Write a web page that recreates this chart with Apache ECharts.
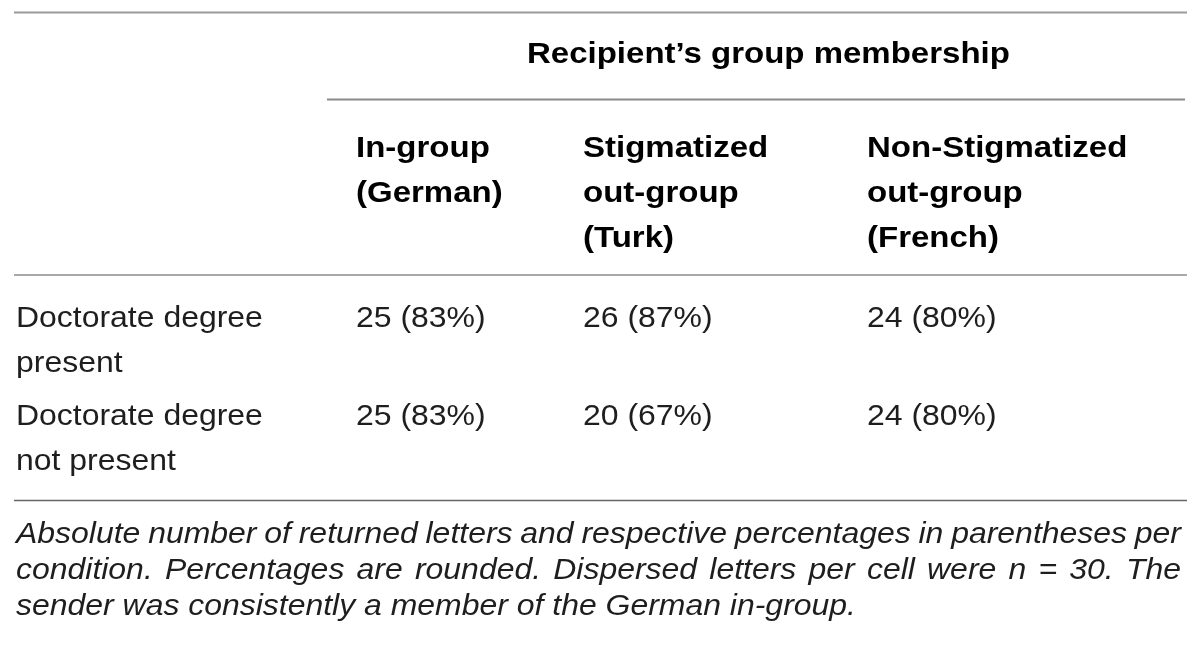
<!DOCTYPE html>
<html>
<head>
<meta charset="utf-8">
<script src="https://cdn.jsdelivr.net/npm/echarts@6/dist/echarts.min.js"></script>
<style>
html,body{margin:0;padding:0;background:#fff;}
#main{width:1200px;height:648px;}
</style>
</head>
<body>
<div id="main"></div>
<script>
// ---- data ----
const spanHeader = "Recipient’s group membership";
const columnHeaders = [
  ["In-group", "(German)"],
  ["Stigmatized", "out-group", "(Turk)"],
  ["Non-Stigmatized", "out-group", "(French)"]
];
const rowLabels = [
  ["Doctorate degree", "present"],
  ["Doctorate degree", "not present"]
];
const returnedLetters = [
  [25, 26, 24],
  [25, 20, 24]
];
const percentages = [
  [83, 87, 80],
  [83, 67, 80]
];
const captionLines = [
  "Absolute number of returned letters and respective percentages in parentheses per",
  "condition. Percentages are rounded. Dispersed letters per cell were n = 30. The",
  "sender was consistently a member of the German in-group."
];

// ---- layout ----
const FONT = '"Liberation Sans", Arial, Helvetica, sans-serif';
const FS = 30;
const colX = [16, 356, 583, 867];
const lineGap = 45;
const headerY = 55;
const colHeadY = 148.5;
const rowY = [319, 417];
const captionY = 535, captionGap = 36;
const left = 14, right = 1187, captionRight = 1181;

const chart = echarts.init(document.getElementById('main'), null, {renderer: 'canvas'});
const els = [];

function txt(s, x, y, weight, style, scale, color) {
  els.push({
    type: 'text', x: x, y: y, scaleX: scale || 1, silent: true,
    style: {
      text: s, x: 0, y: 0, fill: color || '#1e1e1e',
      font: (style || 'normal') + ' ' + (weight || 'normal') + ' ' + FS + 'px ' + FONT,
      align: 'left', verticalAlign: 'middle'
    }
  });
}
function hline(x1, x2, y, w, c) {
  els.push({type: 'line', silent: true, shape: {x1: x1, y1: y, x2: x2, y2: y},
    style: {stroke: c, lineWidth: w}});
}

const REG = 1.065, BOLD = 1.1;

// rules
hline(left, right, 12.5, 2, '#9a9a9a');
hline(327, 1185, 99.5, 2, '#8a8a8a');
hline(left, right, 275, 2, '#a8a8a8');
hline(left, right, 500.5, 1.3, '#666666');

// spanning header
txt(spanHeader, 527, headerY, 'bold', 'normal', BOLD, '#000');

// column headers
columnHeaders.forEach((lines, c) => {
  lines.forEach((s, i) => txt(s, colX[c + 1], colHeadY + i * lineGap, 'bold', 'normal', BOLD, '#000'));
});

// rows
rowLabels.forEach((lines, r) => {
  lines.forEach((s, i) => txt(s, colX[0], rowY[r] + i * lineGap, 'normal', 'normal', REG));
  returnedLetters[r].forEach((n, c) => {
    txt(n + ' (' + percentages[r][c] + '%)', colX[c + 1], rowY[r], 'normal', 'normal', REG);
  });
});

// caption (justified except last line)
const ctx = document.createElement('canvas').getContext('2d');
const capFont = 'italic normal ' + FS + 'px ' + FONT;
ctx.font = capFont;
captionLines.forEach((line, i) => {
  const y = captionY + i * captionGap;
  if (i === captionLines.length - 1) {
    txt(line, colX[0], y, 'normal', 'italic', REG);
    return;
  }
  const words = line.split(' ');
  const widths = words.map(w => ctx.measureText(w).width * REG);
  const total = widths.reduce((a, b) => a + b, 0);
  const gap = (captionRight - colX[0] - total) / (words.length - 1);
  let x = colX[0];
  words.forEach((w, k) => {
    txt(w, x, y, 'normal', 'italic', REG);
    x += widths[k] + gap;
  });
});

chart.setOption({
  backgroundColor: '#ffffff',
  animation: false,
  graphic: {elements: els}
});
</script>
</body>
</html>
